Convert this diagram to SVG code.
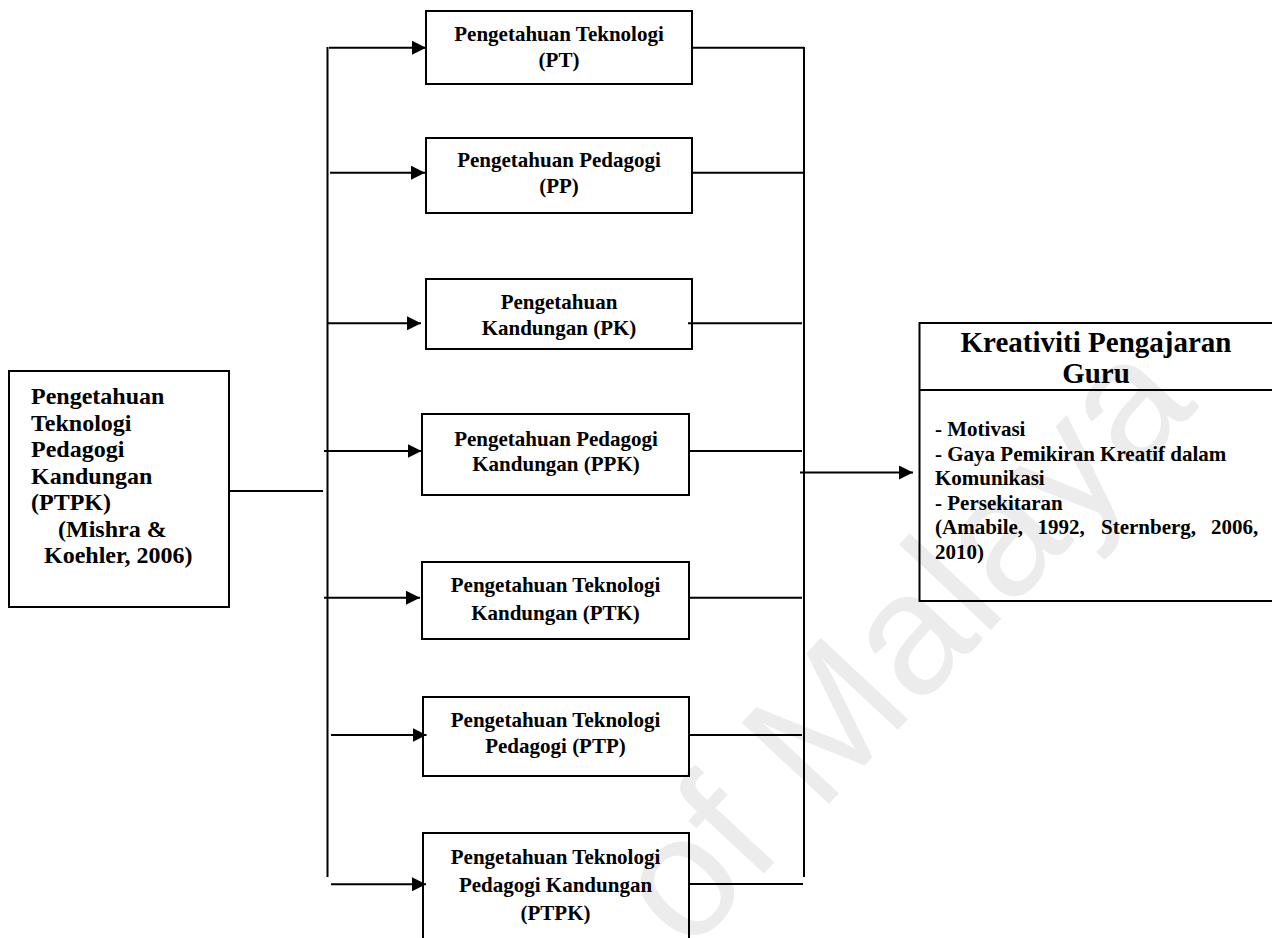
<svg xmlns="http://www.w3.org/2000/svg" width="1272" height="938" viewBox="0 0 1272 938">
  <style>
    .box { fill: none; stroke: #000; stroke-width: 2; }
    .ln { fill: none; stroke: #000; stroke-width: 2; }
    .t { font-family: "Liberation Serif", "Times New Roman", serif; font-weight: bold; fill: #000; }
    .mid { font-size: 21px; text-anchor: middle; }
    .src { font-size: 24px; }
    .title { font-size: 29px; text-anchor: middle; }
    .body { font-size: 21px; }
    .wm { font-family: "Liberation Sans", Arial, sans-serif; font-size: 173px; fill: #ececec; }
  </style>
  <defs>
    <marker id="arrow" markerUnits="userSpaceOnUse" markerWidth="14" markerHeight="14" refX="14" refY="7" orient="auto">
      <path d="M0,0 L14,7 L0,14 Z" fill="#000"/>
    </marker>
  </defs>

  <rect width="1272" height="938" fill="#fff"/>

  <!-- faint background watermark -->
  <text class="wm" x="688" y="955" transform="rotate(-47 688 955)">of Malaya</text>

  <!-- connectors -->
  <g id="connectors">
    <!-- source to left bus -->
    <line class="ln" x1="229" y1="491" x2="323" y2="491"/>
    <!-- left and right buses -->
    <line class="ln" x1="327.5" y1="47" x2="327.5" y2="877"/>
    <line class="ln" x1="804" y1="47" x2="804" y2="877"/>
    <!-- left bus to knowledge boxes -->
    <line class="ln" x1="329" y1="47.7" x2="426" y2="47.7" marker-end="url(#arrow)"/>
    <line class="ln" x1="330" y1="172.7" x2="425" y2="172.7" marker-end="url(#arrow)"/>
    <line class="ln" x1="327" y1="323.3" x2="421" y2="323.3" marker-end="url(#arrow)"/>
    <line class="ln" x1="324" y1="451" x2="421.5" y2="451" marker-end="url(#arrow)"/>
    <line class="ln" x1="324" y1="597.7" x2="420" y2="597.7" marker-end="url(#arrow)"/>
    <line class="ln" x1="331" y1="735" x2="426.5" y2="735" marker-end="url(#arrow)"/>
    <line class="ln" x1="331" y1="884.3" x2="426" y2="884.3" marker-end="url(#arrow)"/>
    <!-- knowledge boxes to right bus -->
    <line class="ln" x1="692" y1="47.7" x2="804" y2="47.7"/>
    <line class="ln" x1="692" y1="172.7" x2="804" y2="172.7"/>
    <line class="ln" x1="688" y1="323.3" x2="802" y2="323.3"/>
    <line class="ln" x1="689" y1="451" x2="802" y2="451"/>
    <line class="ln" x1="689" y1="597.7" x2="802" y2="597.7"/>
    <line class="ln" x1="689" y1="735" x2="802" y2="735"/>
    <line class="ln" x1="689" y1="884" x2="803" y2="884"/>
    <!-- right bus to outcome -->
    <line class="ln" x1="800" y1="472.5" x2="913" y2="472.5" marker-end="url(#arrow)"/>
  </g>

  <!-- source node -->
  <g id="node-ptpk-source">
    <rect class="box" x="9" y="371" width="220" height="236"/>
    <text class="t src" x="31" y="404">Pengetahuan</text>
    <text class="t src" x="31" y="431">Teknologi</text>
    <text class="t src" x="31" y="457">Pedagogi</text>
    <text class="t src" x="31" y="484">Kandungan</text>
    <text class="t src" x="31" y="510">(PTPK)</text>
    <text class="t src" x="58" y="537">(Mishra &amp;</text>
    <text class="t src" x="44" y="563">Koehler, 2006)</text>
  </g>

  <g id="node-pt">
    <rect class="box" x="426" y="11" width="266" height="73"/>
    <text class="t mid" x="559" y="41">Pengetahuan Teknologi</text>
    <text class="t mid" x="559" y="67">(PT)</text>
  </g>

  <g id="node-pp">
    <rect class="box" x="426" y="138" width="266" height="75"/>
    <text class="t mid" x="559" y="167">Pengetahuan Pedagogi</text>
    <text class="t mid" x="559" y="193">(PP)</text>
  </g>

  <g id="node-pk">
    <rect class="box" x="426" y="279" width="266" height="70"/>
    <text class="t mid" x="559" y="309">Pengetahuan</text>
    <text class="t mid" x="559" y="335">Kandungan (PK)</text>
  </g>

  <g id="node-ppk">
    <rect class="box" x="422" y="414" width="267" height="81"/>
    <text class="t mid" x="556" y="446">Pengetahuan Pedagogi</text>
    <text class="t mid" x="556" y="471">Kandungan (PPK)</text>
  </g>

  <g id="node-ptk">
    <rect class="box" x="422" y="562" width="267" height="77"/>
    <text class="t mid" x="555.5" y="592">Pengetahuan Teknologi</text>
    <text class="t mid" x="555.5" y="620">Kandungan (PTK)</text>
  </g>

  <g id="node-ptp">
    <rect class="box" x="423" y="697" width="266" height="79"/>
    <text class="t mid" x="555.5" y="727">Pengetahuan Teknologi</text>
    <text class="t mid" x="555.5" y="753">Pedagogi (PTP)</text>
  </g>

  <g id="node-ptpk">
    <rect class="box" x="423" y="833" width="266" height="120"/>
    <text class="t mid" x="555.5" y="864">Pengetahuan Teknologi</text>
    <text class="t mid" x="555.5" y="892">Pedagogi Kandungan</text>
    <text class="t mid" x="555.5" y="920">(PTPK)</text>
  </g>

  <!-- outcome node -->
  <g id="node-kreativiti">
    <rect class="box" x="919.5" y="323" width="370" height="278"/>
    <line class="ln" x1="919.5" y1="390" x2="1280" y2="390"/>
    <text class="t title" x="1096" y="352">Kreativiti Pengajaran</text>
    <text class="t title" x="1096" y="383">Guru</text>
    <text class="t body" x="935" y="436">- Motivasi</text>
    <text class="t body" x="935" y="461">- Gaya Pemikiran Kreatif dalam</text>
    <text class="t body" x="935" y="485">Komunikasi</text>
    <text class="t body" x="935" y="510">- Persekitaran</text>
    <text class="t body" y="534"><tspan x="935">(Amabile,</tspan><tspan x="1037.5">1992,</tspan><tspan x="1101">Sternberg,</tspan><tspan x="1211">2006,</tspan></text>
    <text class="t body" x="935" y="559">2010)</text>
  </g>
</svg>
